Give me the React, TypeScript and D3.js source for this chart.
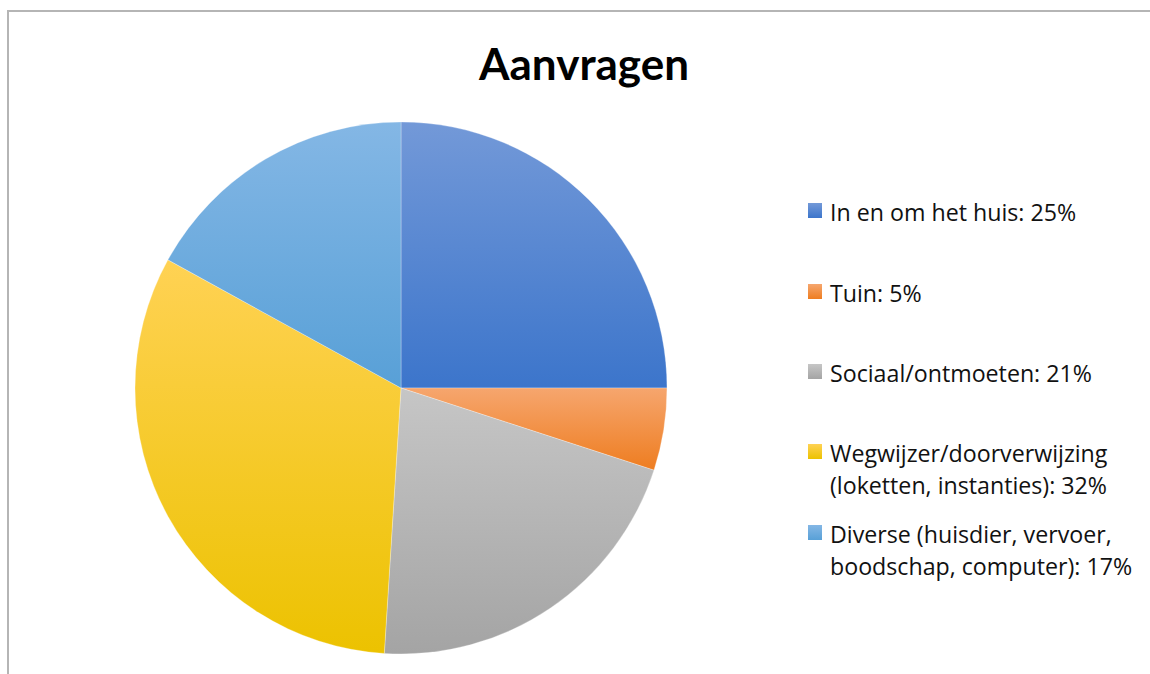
import React from "react";
import * as d3 from "d3";

const categories = [
  "In en om het huis: 25%",
  "Tuin: 5%",
  "Sociaal/ontmoeten: 21%",
  "Wegwijzer/doorverwijzing\n(loketten, instanties): 32%",
  "Diverse (huisdier, vervoer,\nboodschap, computer): 17%",
];
const values = [25, 5, 21, 32, 17];
const topColors = ["#7399d8", "#f6a66e", "#c6c6c6", "#ffd254", "#84b7e5"];
const bottomColors = ["#3c75cb", "#ee7d20", "#a4a4a4", "#ecc200", "#58a0d7"];
const legendBaselines = [221, 302, 382, 462, 543];

export default function App() {
  const W = 1150, H = 674;
  const cx = 401, cy = 388, r = 266;
  const pie = d3.pie<number>().sort(null).value((d) => d);
  const arcs = pie(values);
  const arcGen = d3.arc<d3.PieArcDatum<number>>().innerRadius(0).outerRadius(r);
  const titleFont = "Lato, 'Open Sans', sans-serif";
  const font = "'Open Sans', Lato, sans-serif";
  return (
    <svg width={W} height={H} style={{ position: "fixed", left: 0, top: 0, background: "#fff" }}>
      <defs>
        {values.map((_, i) => (
          <linearGradient key={i} id={`g${i}`} x1="0" y1="0" x2="0" y2="1">
            <stop offset="0%" stopColor={topColors[i]} />
            <stop offset="100%" stopColor={bottomColors[i]} />
          </linearGradient>
        ))}
      </defs>
      <rect x={8} y={11} width={W + 10} height={H + 10} fill="none" stroke="#b5b5b5" strokeWidth={2} />
      <text x={584} y={80} textAnchor="middle" fontFamily={titleFont} fontWeight="bold" fontSize={44} fill="#000">
        Aanvragen
      </text>
      <g transform={`translate(${cx},${cy})`}>
        {arcs.map((a, i) => (
          <path key={i} d={arcGen(a) || ""} fill={`url(#g${i})`} stroke="#ffffff" strokeOpacity={0.35} strokeWidth={0.8} />
        ))}
      </g>
      {categories.map((c, i) => {
        const lines = c.split("\n");
        const by = legendBaselines[i];
        return (
          <g key={i}>
            <rect x={808} y={by - 18} width={14} height={15} fill={`url(#g${i})`} />
            <text x={830} y={by} fontFamily={font} fontSize={23.2} fill="#111">
              {lines.map((l, j) => (
                <tspan key={j} x={830} dy={j === 0 ? 0 : 32}>{l}</tspan>
              ))}
            </text>
          </g>
        );
      })}
    </svg>
  );
}
